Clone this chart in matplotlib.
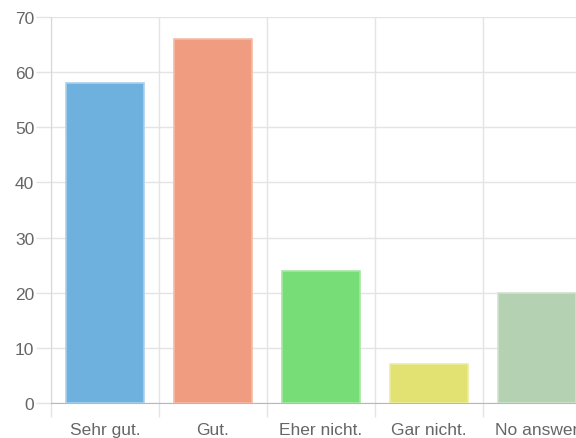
import matplotlib.pyplot as plt

plt.rcParams["font.family"] = ["Liberation Sans", "DejaVu Sans"]

categories = ["Sehr gut.", "Gut.", "Eher nicht.", "Gar nicht.", "No answer"]
values = [58, 66, 24, 7, 20]
colors = ["#6fb1de", "#f09c80", "#77dd77", "#e2e272", "#b4d1b2"]
edges = ["#a9d1ee", "#f5bba6", "#a4e8a4", "#ecec9e", "#cfe2cd"]
yticks = [0, 10, 20, 30, 40, 50, 60, 70]

fig = plt.figure(figsize=(5.76, 4.39), dpi=100)
# plot area runs past the right edge, as in the reference (last label cut off)
ax = fig.add_axes([51 / 576, 1 - 404 / 439, 540 / 576, 386 / 439])

x = list(range(len(categories)))
ax.bar(x, values, width=0.72, color=colors, edgecolor=edges, linewidth=1.2, zorder=3)

ax.set_xlim(-0.5, len(categories) - 0.5)
ax.set_ylim(0, 70)
ax.set_yticks(yticks)
ax.set_xticks([i - 0.5 for i in x], minor=True)
ax.set_xticks(x)
ax.set_xticklabels(categories)

# grid in chart.js style
ax.grid(True, which="minor", axis="x", color="#e4e4e4", linewidth=1, zorder=0)
ax.grid(True, which="major", axis="y", color="#e4e4e4", linewidth=1, zorder=0)
ax.tick_params(axis="x", which="major", length=0, pad=14, labelsize=12.5, labelcolor="#666666")
ax.tick_params(axis="x", which="minor", length=10, color="#e4e4e4", width=1)
ax.tick_params(axis="y", length=11, color="#e4e4e4", width=1, pad=1, labelsize=12.5, labelcolor="#666666")

for side in ["top", "right"]:
    ax.spines[side].set_visible(False)
ax.spines["left"].set_color("#d8d8d8")
ax.spines["bottom"].set_color("#b8b8b8")

fig.savefig("out.png", dpi=100)
